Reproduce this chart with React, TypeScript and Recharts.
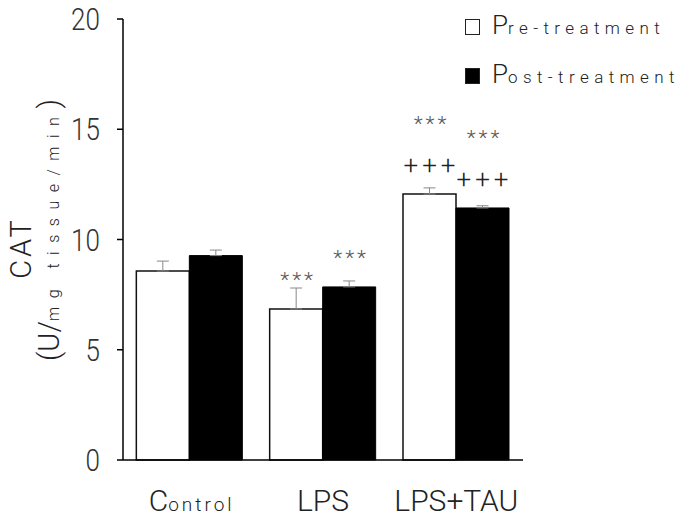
import { Bar, BarChart, ErrorBar, LabelList, Legend, XAxis, YAxis } from "recharts";

const groups = ["Control", "LPS", "LPS+TAU"];
const preValues = [8.57, 6.85, 12.06];
const postValues = [9.27, 7.85, 11.43];
const preErrors = [0.45, 0.95, 0.28];
const postErrors = [0.25, 0.27, 0.1];
const preStars = ["", "***", "***"];
const postStars = ["", "***", "***"];
const prePlus = ["", "", "+++"];
const postPlus = ["", "", "+++"];
const yTicks = [0, 5, 10, 15, 20];

const FONT = 'Roboto, "Noto Sans", sans-serif';
const W = 300;
const SQUEEZE = 0.84;

const data = groups.map((g, i) => ({
  group: g,
  pre: preValues[i],
  post: postValues[i],
  preErr: [0, preErrors[i]],
  postErr: [0, postErrors[i]],
  preMarks: `${preStars[i]}|${prePlus[i]}`,
  postMarks: `${postStars[i]}|${postPlus[i]}`,
}));

function Marks(props: any) {
  const { x, y, width, value } = props;
  const [stars, plus] = String(value ?? "|").split("|");
  const cx = Number(x) + Number(width) / 2;
  const top = Number(y);
  const plusCenter = top - 29;
  const starCenter = plus ? plusCenter - 46 : top - 34;
  return (
    <g fontFamily={FONT} fontWeight={W}>
      {plus && (
        <text x={cx + 2} y={plusCenter + 9} textAnchor="middle" fontSize={26} fill="#222" letterSpacing={4}>
          {plus}
        </text>
      )}
      {stars && (
        <text x={cx + 2} y={starCenter + 12} textAnchor="middle" fontSize={21} fill="#555" letterSpacing={3}>
          {stars}
        </text>
      )}
    </g>
  );
}

function ValueTick(props: any) {
  const { x, y, payload } = props;
  return (
    <text
      transform={`translate(${Number(x)}, ${Number(y)}) scale(${SQUEEZE}, 1)`}
      textAnchor="end"
      dy="0.36em"
      fontFamily={FONT}
      fontWeight={W}
      fontSize={31}
      fill="#333"
    >
      {payload.value}
    </text>
  );
}

function GroupTick(props: any) {
  const { x, y, payload } = props;
  const label = String(payload.value);
  const base = Number(y) + 43;
  if (label === "Control") {
    return (
      <text x={Number(x) + 2} y={base} textAnchor="middle" fontFamily={FONT} fontWeight={W} fill="#222">
        <tspan fontSize={30}>C</tspan>
        <tspan fontSize={19} letterSpacing={3}>ontrol</tspan>
      </text>
    );
  }
  return (
    <text x={x} y={base} textAnchor="middle" fontFamily={FONT} fontWeight={W} fontSize={30} fill="#222">
      {label}
    </text>
  );
}

function YLabel() {
  return (
    <g fontFamily={FONT} fontWeight={W} fill="#222">
      <text transform="translate(31, 248) rotate(-90)" textAnchor="middle" fontSize={29} letterSpacing={3}>
        CAT
      </text>
      <text transform="translate(59, 230) rotate(-90)" textAnchor="middle">
        <tspan fontSize={29}>(U/</tspan>
        <tspan fontSize={16} letterSpacing={8.5}>mg tissue/min</tspan>
        <tspan fontSize={29}>)</tspan>
      </text>
    </g>
  );
}

function LegendBox() {
  const row = (fill: string, first: string, rest: string) => (
    <div style={{ display: "flex", alignItems: "flex-end", height: 24, marginBottom: 25 }}>
      <div
        style={{
          width: 13,
          height: 14,
          border: "1px solid #222",
          background: fill,
          marginRight: 12,
          marginBottom: 3,
        }}
      />
      <span style={{ fontFamily: FONT, fontWeight: W, color: "#222", lineHeight: 1, whiteSpace: "nowrap" }}>
        <span style={{ fontSize: 26 }}>{first}</span>
        <span style={{ fontSize: 17, letterSpacing: 5.4 }}>{rest}</span>
      </span>
    </div>
  );
  return (
    <div>
      {row("#fff", "P", "re-treatment")}
      {row("#000", "P", "ost-treatment")}
    </div>
  );
}

export default function App() {
  return (
    <div style={{ position: "absolute", left: 0, top: 0, background: "#fff" }}>
      <BarChart
        width={685}
        height={519}
        data={data}
        margin={{ top: 19, right: 162, left: 63, bottom: 29 }}
        barCategoryGap="10%"
        barGap={0}
      >
        <XAxis
          dataKey="group"
          height={30}
          axisLine={{ stroke: "#000", strokeWidth: 1.5 }}
          tickLine={false}
          tick={<GroupTick />}
          interval={0}
        />
        <YAxis
          width={60}
          domain={[0, 20]}
          ticks={yTicks}
          interval={0}
          tickSize={6}
          tickMargin={17}
          axisLine={{ stroke: "#000", strokeWidth: 1.5 }}
          tickLine={{ stroke: "#000", strokeWidth: 1.5 }}
          tick={<ValueTick />}
          label={<YLabel />}
        />
        <Legend
          layout="horizontal"
          verticalAlign="middle"
          align="center"
          wrapperStyle={{ top: 14, left: 465, width: 220 }}
          content={() => <LegendBox />}
        />
        <Bar dataKey="pre" fill="#fff" stroke="#111" strokeWidth={1.5} isAnimationActive={false}>
          <ErrorBar dataKey="preErr" width={6} stroke="#888" strokeWidth={1} direction="y" />
          <LabelList dataKey="preMarks" content={<Marks />} />
        </Bar>
        <Bar dataKey="post" fill="#000" stroke="#000" strokeWidth={1} isAnimationActive={false}>
          <ErrorBar dataKey="postErr" width={6} stroke="#888" strokeWidth={1} direction="y" />
          <LabelList dataKey="postMarks" content={<Marks />} />
        </Bar>
      </BarChart>
    </div>
  );
}
